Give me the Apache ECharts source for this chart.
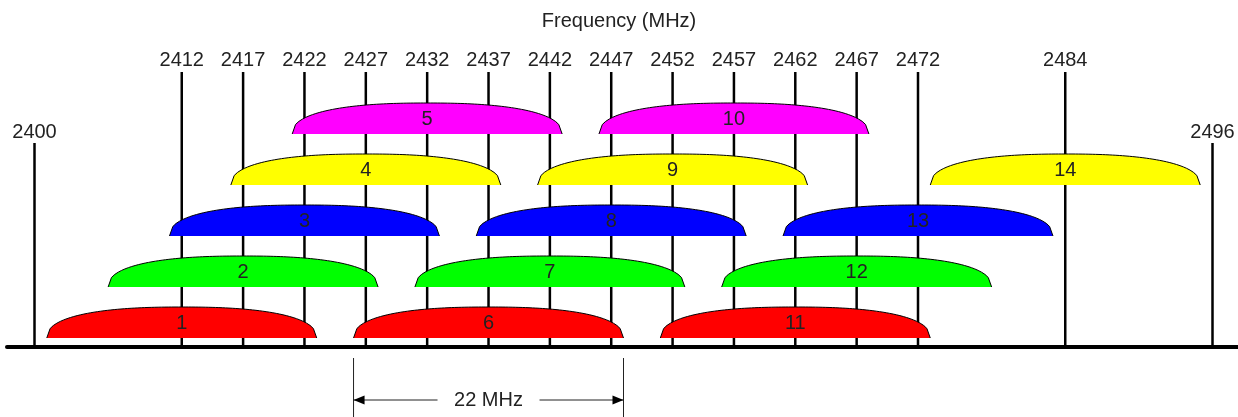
<!DOCTYPE html>
<html>
	<head>
		<meta charset="UTF-8">
		<script type="text/javascript" src="https://cdn.jsdelivr.net/npm/echarts@6/dist/echarts.min.js"></script>
		<title>2.4 GHz channels</title>
		<style>
			html, body { margin: 0; padding: 0; background: #fff; }
			#chart { width: 1238px; height: 417px; }
		</style>
	</head>
	<body>
		<div id="chart"></div>
		<script type="text/javascript">
			// channel data
			var channels = [1, 2, 3, 4, 5, 6, 7, 8, 9, 10, 11, 12, 13, 14];
			var centerFreqs = [2412, 2417, 2422, 2427, 2432, 2437, 2442, 2447, 2452, 2457, 2462, 2467, 2472, 2484];
			var bandEdges = [2400, 2496];
			var channelWidth = 22;      // MHz
			var spanChannel = 6;        // channel used for the "22 MHz" dimension

			var FONT = '20px "Liberation Sans", Arial, sans-serif';
			var rowColors = ['#ff0000', '#00ff00', '#0000ff', '#ffff00', '#ff00ff'];
			var ROW_GAP = 51, ROW_OFFSET = 9, HUMP_H = 31;

			var myChart = echarts.init(document.getElementById('chart'));

			// black frequency lines + labels
			function renderLines(params, api) {
				var f = api.value(0);
				var tall = api.value(1) === 1;
				var p = api.coord([f, 0]);
				var top = p[1] - (tall ? 275 : 204);
				var labelY = p[1] - (tall ? 287 : 215);
				return {
					type: 'group',
					children: [
						{type: 'line', z2: 0, shape: {x1: p[0], y1: top, x2: p[0], y2: p[1]},
						 style: {stroke: '#000', lineWidth: 2.5}},
						{type: 'text', z2: 0, style: {text: String(f), x: p[0], y: labelY, align: 'center',
						 verticalAlign: 'middle', font: FONT, fill: '#222'}}
					]
				};
			}

			// channel humps (drawn over the lines)
			function renderHump(params, api) {
				var c = api.value(0), ch = api.value(1);
				var row = (ch - 1) % 5;
				var L = api.coord([c - channelWidth / 2, 0]);
				var R = api.coord([c + channelWidth / 2, 0]);
				var bottom = L[1] - ROW_OFFSET - row * ROW_GAP;
				var cx = (L[0] + R[0]) / 2, a = (R[0] - L[0]) / 2;
				var pts = [], N = 80, k = 2.4;
				for (var i = 0; i <= N; i++) {
					var u = -1 + 2 * i / N;
					var h = HUMP_H * Math.pow(Math.max(0, 1 - Math.pow(Math.abs(u), k)), 1 / k);
					pts.push([cx + u * a, bottom - h]);
				}
				return {
					type: 'group',
					children: [
						{type: 'polygon', z2: 10, shape: {points: pts}, style: {fill: rowColors[row], stroke: null}},
						{type: 'polyline', z2: 11, shape: {points: pts}, style: {stroke: '#000', lineWidth: 1, fill: null}},
						{type: 'text', z2: 12, style: {text: String(ch), x: cx, y: bottom - 15, align: 'center',
						 verticalAlign: 'middle', font: FONT, fill: '#222'}}
					]
				};
			}

			// "22 MHz" dimension under the axis
			function renderSpan(params, api) {
				var L = api.coord([api.value(0), 0]);
				var R = api.coord([api.value(1), 0]);
				var base = L[1];
				var y1 = base + 11, y2 = base + 70, ay = base + 53;
				var mid = (L[0] + R[0]) / 2;
				var gap = 51, al = 11, ah = 4.5;
				var st = {stroke: '#222', lineWidth: 1};
				return {
					type: 'group',
					children: [
						{type: 'line', shape: {x1: L[0], y1: y1, x2: L[0], y2: y2}, style: st},
						{type: 'line', shape: {x1: R[0], y1: y1, x2: R[0], y2: y2}, style: st},
						{type: 'line', shape: {x1: L[0], y1: ay, x2: mid - gap, y2: ay}, style: st},
						{type: 'line', shape: {x1: mid + gap, y1: ay, x2: R[0], y2: ay}, style: st},
						{type: 'polygon', shape: {points: [[L[0], ay], [L[0] + al, ay - ah], [L[0] + al, ay + ah]]}, style: {fill: '#000'}},
						{type: 'polygon', shape: {points: [[R[0], ay], [R[0] - al, ay - ah], [R[0] - al, ay + ah]]}, style: {fill: '#000'}},
						{type: 'text', style: {text: channelWidth + ' MHz', x: mid, y: ay, align: 'center',
						 verticalAlign: 'middle', font: FONT, fill: '#222'}}
					]
				};
			}

			var lineData = centerFreqs.map(function (f) { return [f, 1]; })
				.concat(bandEdges.map(function (f) { return [f, 0]; }));
			var humpData = channels.map(function (ch, i) { return [centerFreqs[i], ch]; });
			var sc = centerFreqs[channels.indexOf(spanChannel)];
			var spanData = [[sc - channelWidth / 2, sc + channelWidth / 2]];

			// px per MHz from edges at x=34.5 and x=1212.5
			var pxPerMHz = (1212.5 - 34.5) / (bandEdges[1] - bandEdges[0]);

			var option = {
				animation: false,
				title: {
					text: 'Frequency (MHz)',
					left: 'center',
					top: 11,
					padding: 0,
					textStyle: {fontSize: 20, fontWeight: 'normal', color: '#222', fontFamily: '"Liberation Sans", Arial, sans-serif'}
				},
				grid: {left: 7, right: 0, top: 0, bottom: 70},
				xAxis: {
					type: 'value',
					min: bandEdges[0] - 27.5 / pxPerMHz,
					max: bandEdges[1] + 25.5 / pxPerMHz,
					axisLine: {show: true, lineStyle: {color: '#000', width: 4}},
					axisTick: {show: false},
					axisLabel: {show: false},
					splitLine: {show: false}
				},
				yAxis: {type: 'value', min: 0, max: 1, show: false},
				series: [
					{type: 'custom', z: 2, renderItem: renderLines, data: lineData, silent: true},
					{type: 'custom', z: 5, renderItem: renderHump, data: humpData, silent: true},
					{type: 'custom', z: 6, renderItem: renderSpan, data: spanData, silent: true}
				]
			};
			myChart.setOption(option);
		</script>
	</body>
</html>
